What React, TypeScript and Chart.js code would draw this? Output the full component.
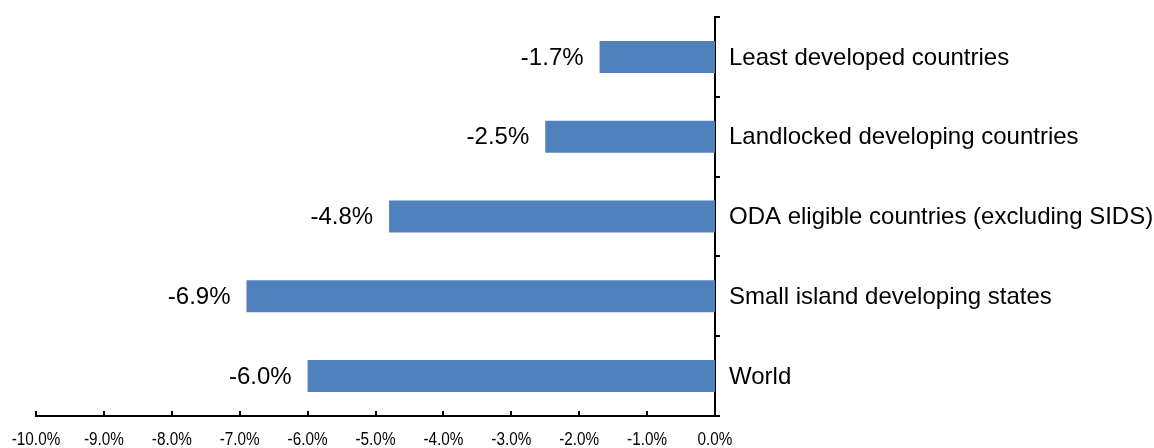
import React, { useEffect, useRef } from "react";
import { Chart, registerables } from "chart.js";

Chart.register(...registerables);

const categories: string[] = [
  "Least developed countries",
  "Landlocked developing countries",
  "ODA eligible countries (excluding SIDS)",
  "Small island developing states",
  "World",
];
const values: number[] = [-1.7, -2.5, -4.8, -6.9, -6.0];
const xMin = -10;
const xMax = 0;
const xStep = 1;

const fmt = (v: number) => (Math.abs(v) < 1e-9 ? 0 : v).toFixed(1) + "%";

const labelsPlugin = {
  id: "barLabels",
  afterDraw(chart: any) {
    const ctx = chart.ctx;
    const meta = chart.getDatasetMeta(0);
    const area = chart.chartArea;
    const xs = chart.scales.x;
    const ys = chart.scales.y;
    ctx.save();
    // data labels
    ctx.font = "24px 'Liberation Sans', Arial, sans-serif";
    ctx.fillStyle = "#000";
    ctx.textAlign = "right";
    ctx.textBaseline = "middle";
    meta.data.forEach((bar: any, i: number) => {
      ctx.fillText(fmt(values[i]), bar.x - 16, bar.y + 1);
    });
    // category labels
    ctx.textAlign = "left";
    categories.forEach((c, i) => {
      ctx.fillText(c, area.right + 14, ys.getPixelForValue(i) + 1);
    });
    // inward tick marks on x axis
    ctx.strokeStyle = "#000";
    ctx.lineWidth = 2;
    xs.ticks.forEach((t: any) => {
      const px = Math.round(xs.getPixelForValue(t.value));
      ctx.beginPath();
      ctx.moveTo(px, area.bottom);
      ctx.lineTo(px, area.bottom - 5);
      ctx.stroke();
    });
    // outward tick marks on y axis at category boundaries
    for (let i = 0; i <= categories.length; i++) {
      const py = Math.round(area.top + ((area.bottom - area.top) * i) / categories.length);
      ctx.beginPath();
      ctx.moveTo(area.right, py);
      ctx.lineTo(area.right + 5, py);
      ctx.stroke();
    }
    // x tick labels (condensed)
    ctx.font = "18px 'Liberation Sans', Arial, sans-serif";
    ctx.textAlign = "center";
    ctx.textBaseline = "middle";
    xs.ticks.forEach((t: any) => {
      const px = xs.getPixelForValue(t.value);
      ctx.save();
      ctx.translate(px, 440);
      ctx.scale(0.85, 1);
      ctx.fillText(fmt(t.value), 0, 0);
      ctx.restore();
    });
    ctx.restore();
  },
};

export default function App() {
  const ref = useRef<HTMLCanvasElement | null>(null);
  useEffect(() => {
    if (!ref.current) return;
    const chart = new Chart(ref.current, {
      type: "bar",
      data: {
        labels: categories,
        datasets: [
          {
            data: values,
            backgroundColor: "#4F81BD",
            borderWidth: 0,
            categoryPercentage: 0.401,
            barPercentage: 1,
          },
        ],
      },
      options: {
        indexAxis: "y",
        responsive: false,
        animation: false,
        layout: { padding: { left: 36, top: 17, right: 0, bottom: 0 } },
        plugins: { legend: { display: false }, tooltip: { enabled: false } },
        scales: {
          x: {
            type: "linear",
            min: xMin,
            max: xMax,
            position: "bottom",
            ticks: { display: false, stepSize: xStep },
            grid: { display: false },
            border: { display: true, color: "#000", width: 2 },
            afterFit: (s: any) => {
              s.height = 32;
            },
          },
          y: {
            position: "right",
            ticks: { display: false },
            grid: { display: false },
            border: { display: true, color: "#000", width: 2 },
            afterFit: (s: any) => {
              s.width = 439;
            },
          },
        },
      },
      plugins: [labelsPlugin],
    } as any);
    return () => chart.destroy();
  }, []);
  return (
    <div style={{ position: "fixed", left: 0, top: 0, width: 1154, height: 448, background: "#fff" }}>
      <canvas ref={ref} width={1154} height={448} />
    </div>
  );
}
